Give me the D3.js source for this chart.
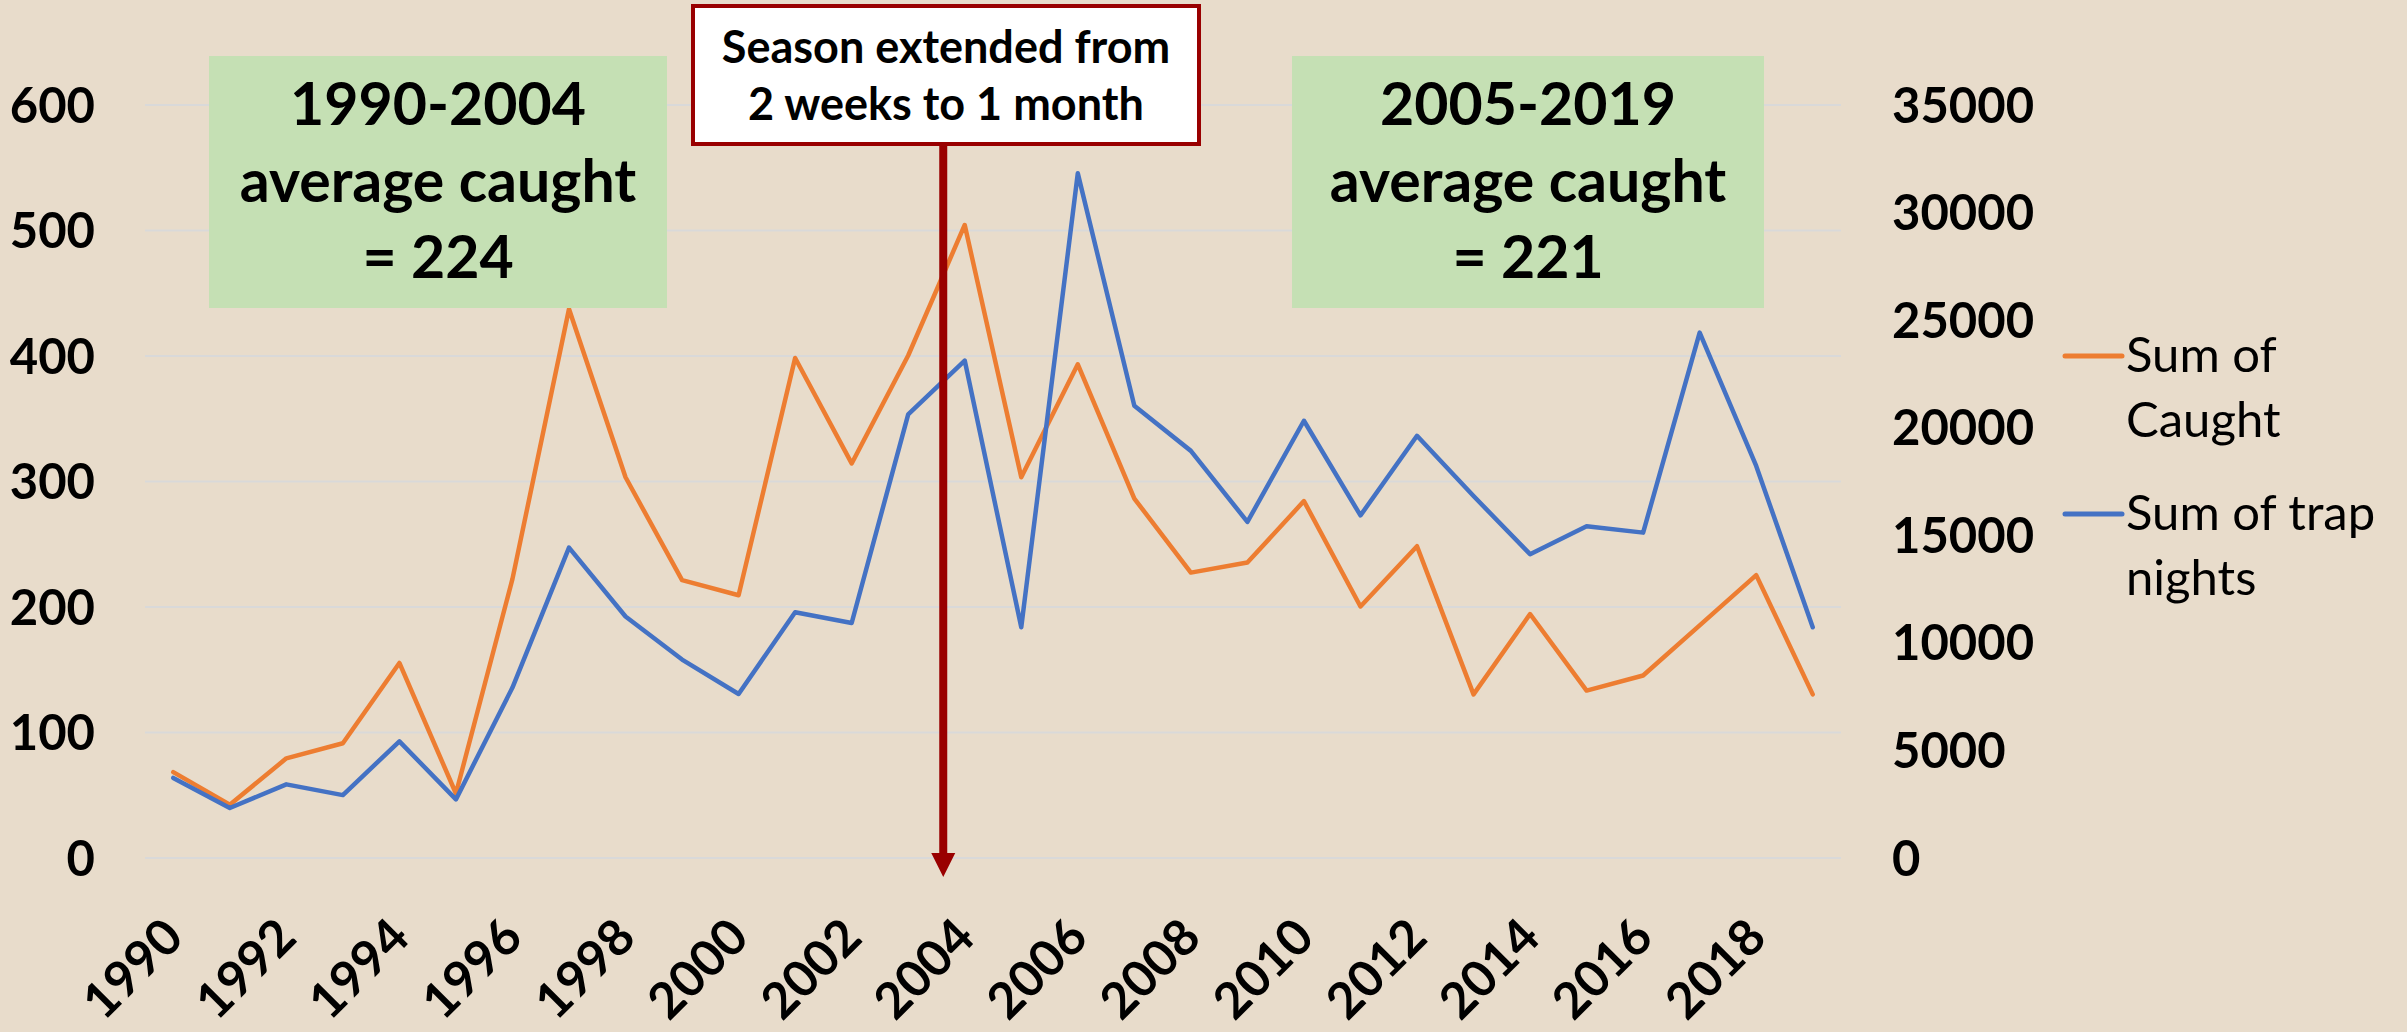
<!DOCTYPE html>
<html>
<head>
<meta charset="utf-8">
<script src="https://cdn.jsdelivr.net/npm/d3@7/dist/d3.min.js"></script>
<style>
  html, body { margin: 0; padding: 0; background: #e8dccb; }
  svg { display: block; }
  text { font-family: Lato, "Open Sans", "Noto Sans", sans-serif; }
</style>
</head>
<body>
<svg id="chart" width="2407" height="1032"></svg>
<script>
// Yearly trapping totals
const years = d3.range(1990, 2020);
const caught = [68, 42, 79, 91, 155, 51, 222, 437, 303, 221, 209, 398, 314, 400, 504,
                303, 393, 286, 227, 235, 284, 200, 248, 130, 194, 133, 145, 185, 225, 130];
const trapNights = [3700, 2300, 3400, 2900, 5400, 2700, 7900, 14400, 11200, 9200, 7600, 11400, 10900, 20600, 23100,
                    10700, 31800, 21000, 18900, 15600, 20300, 15900, 19600, 16800, 14100, 15400, 15100, 24400, 18200, 10700];
const leftTicks = [0, 100, 200, 300, 400, 500, 600];
const rightTicks = [0, 5000, 10000, 15000, 20000, 25000, 30000, 35000];
const xTickYears = d3.range(1990, 2020, 2);

const seriesNames = [["Sum of", "Caught"], ["Sum of trap", "nights"]];
const colors = ["#ed7d31", "#4472c4"];

const avgBoxes = [
  { lines: ["1990-2004", "average caught", "= 224"] },
  { lines: ["2005-2019", "average caught", "= 221"] }
];
const noteLines = ["Season extended from", "2 weeks to 1 month"];
const noteYear = 2003.62;

const svg = d3.select("#chart");
const W = 2407, H = 1032;
svg.append("rect").attr("width", W).attr("height", H).attr("fill", "#e8dccb");

const plot = { left: 145, right: 1841, top: 104.5, bottom: 857.5 };

const x = d3.scaleLinear().domain([1989.5, 2019.5]).range([plot.left, plot.right]);
const yL = d3.scaleLinear().domain([0, 600]).range([plot.bottom, plot.top]);
const yR = d3.scaleLinear().domain([0, 35000]).range([plot.bottom, plot.top]);

// Horizontal gridlines
const grid = svg.append("g")
  .attr("transform", `translate(${plot.left},0)`)
  .call(d3.axisLeft(yL).tickValues(leftTicks).tickSize(-(plot.right - plot.left)).tickFormat(""));
grid.select(".domain").remove();
grid.selectAll("line").attr("stroke", "#d9d9d9").attr("stroke-width", 2);

// Left axis labels
const axL = svg.append("g")
  .attr("transform", "translate(95,0)")
  .call(d3.axisLeft(yL).tickValues(leftTicks).tickSize(0).tickPadding(0));
axL.select(".domain").remove();
axL.selectAll("text").attr("font-size", 49).attr("font-weight", 700).attr("fill", "#000")
  .attr("font-family", "Lato, 'Open Sans', sans-serif").attr("dy", "0.36em");

// Right axis labels
const axR = svg.append("g")
  .attr("transform", "translate(1892,0)")
  .call(d3.axisRight(yR).tickValues(rightTicks).tickSize(0).tickPadding(0).tickFormat(d3.format("d")));
axR.select(".domain").remove();
axR.selectAll("text").attr("font-size", 49).attr("font-weight", 700).attr("fill", "#000")
  .attr("font-family", "Lato, 'Open Sans', sans-serif").attr("dy", "0.36em");

// Bottom axis with rotated year labels
const axB = svg.append("g")
  .attr("transform", "translate(12,940)")
  .call(d3.axisBottom(x).tickValues(xTickYears).tickSize(0).tickPadding(0).tickFormat(d3.format("d")));
axB.select(".domain").remove();
axB.selectAll("text")
  .attr("font-size", 50).attr("font-weight", 700).attr("fill", "#000")
  .attr("font-family", "Lato, 'Open Sans', sans-serif")
  .attr("text-anchor", "end").attr("dy", 0).attr("y", 0)
  .attr("transform", "rotate(-45)");

// Series lines
const lineL = d3.line().x((d, i) => x(years[i])).y(d => yL(d));
const lineR = d3.line().x((d, i) => x(years[i])).y(d => yR(d));

svg.append("path").datum(caught)
  .attr("d", lineL).attr("fill", "none").attr("stroke", colors[0])
  .attr("stroke-width", 4.5).attr("stroke-linejoin", "round").attr("stroke-linecap", "round");
svg.append("path").datum(trapNights)
  .attr("d", lineR).attr("fill", "none").attr("stroke", colors[1])
  .attr("stroke-width", 4.5).attr("stroke-linejoin", "round").attr("stroke-linecap", "round");

// Period average boxes
const boxSpans = [[209, 667], [1292, 1764]];
avgBoxes.forEach((b, i) => {
  const [bx0, bx1] = boxSpans[i];
  const g = svg.append("g");
  g.append("rect").attr("x", bx0).attr("y", 56).attr("width", bx1 - bx0).attr("height", 252)
    .attr("fill", "#c5e0b4");
  g.selectAll("text").data(b.lines).join("text")
    .attr("x", (bx0 + bx1) / 2)
    .attr("y", (d, j) => 125 + j * 76.5)
    .attr("text-anchor", "middle")
    .attr("font-size", 59).attr("font-weight", 700).attr("fill", "#000")
    .text(d => d);
});

// Season-change callout with arrow
const ax = x(noteYear);
const note = svg.append("g");
note.append("rect").attr("x", 693).attr("y", 6).attr("width", 506).attr("height", 138)
  .attr("fill", "#ffffff").attr("stroke", "#990000").attr("stroke-width", 4);
note.selectAll("text").data(noteLines).join("text")
  .attr("x", 946).attr("y", (d, j) => 63 + j * 57)
  .attr("text-anchor", "middle").attr("font-size", 45).attr("font-weight", 700).attr("fill", "#000")
  .text(d => d);
note.append("line").attr("x1", ax).attr("x2", ax).attr("y1", 146).attr("y2", 856)
  .attr("stroke", "#990000").attr("stroke-width", 8);
note.append("path")
  .attr("d", `M${ax - 12},853 L${ax + 12},853 L${ax},877 Z`)
  .attr("fill", "#990000");

// Legend
const legend = svg.append("g");
const legendY = [356, 514];
seriesNames.forEach((name, i) => {
  legend.append("line").attr("x1", 2065).attr("x2", 2122)
    .attr("y1", legendY[i]).attr("y2", legendY[i])
    .attr("stroke", colors[i]).attr("stroke-width", 5).attr("stroke-linecap", "round");
  legend.append("text").attr("x", 2126).attr("y", legendY[i] + 16)
    .attr("font-size", 49).attr("fill", "#000")
    .selectAll("tspan").data(name).join("tspan")
    .attr("x", 2126).attr("dy", (d, j) => j === 0 ? 0 : 65)
    .text(d => d);
});
</script>
</body>
</html>
